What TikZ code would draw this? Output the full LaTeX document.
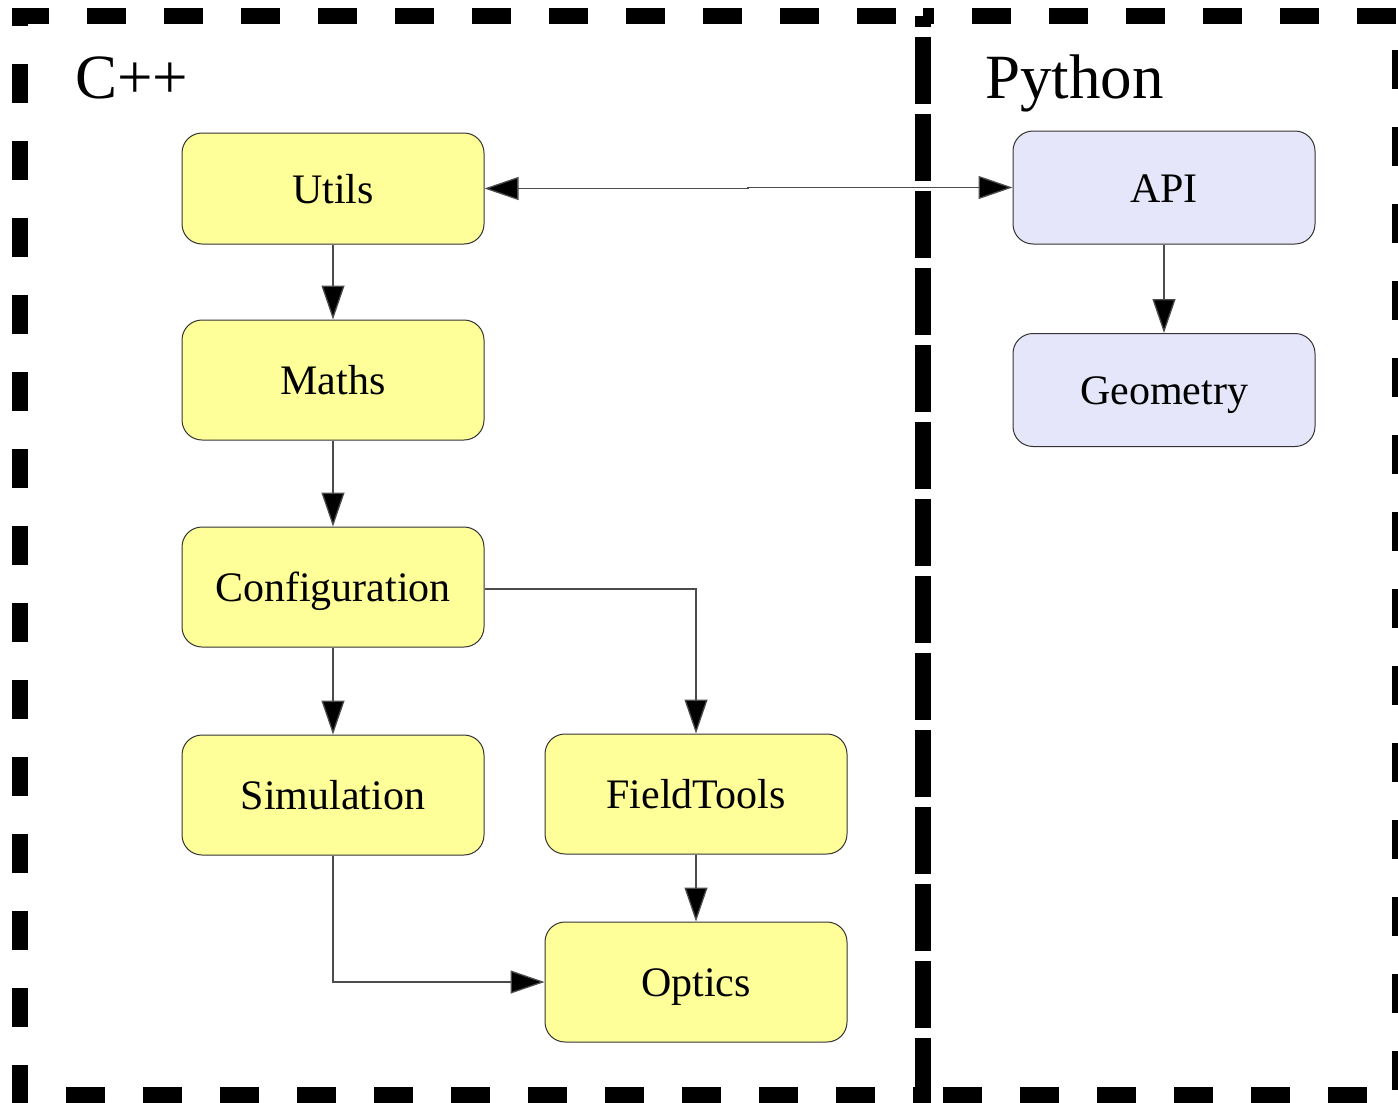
\documentclass[tikz,border=0pt]{standalone}
\usepackage{fontspec}
\setmainfont{Liberation Serif}
\usetikzlibrary{arrows.meta,positioning}

\definecolor{cppfill}{HTML}{FFFF99}
\definecolor{pyfill}{HTML}{E6E6FA}

\tikzset{
  module/.style={draw=black!80, line width=1pt, rounded corners=20pt,
    minimum width=302pt, inner sep=0pt, text height=30pt, text depth=1pt,
    font=\fontsize{42}{50}\selectfont},
  cppmod/.style={module, fill=cppfill, minimum height=120pt},
  pymod/.style={module, fill=pyfill, minimum height=113pt},
  dep/.style={draw=black!70, line width=1.3pt,
    -{Triangle[length=34pt,width=23pt,fill=black]}},
  bidep/.style={draw=black!70, line width=1.3pt,
    {Triangle[length=34pt,width=23pt,fill=black]}-{Triangle[length=34pt,width=23pt,fill=black]}},
  frame/.style={draw=black, line width=16pt, dash pattern=on 39pt off 38pt},
  title/.style={anchor=base west, inner sep=0pt, font=\fontsize{63}{75}\selectfont}
}

\begin{document}
\begin{tikzpicture}[x=1pt,y=-1pt]
\useasboundingbox (0,0) rectangle (1398,1103);

% language frames; both start down the shared edge, dashes offset by 28pt
\coordinate (shtop) at (923,16);
\coordinate (shbot) at (923,1095);
\draw[frame, dash phase=28pt] (shtop) -- (shbot) -- (19.5,1095) -- (19.5,16) -- cycle;
\draw[frame, dash phase=56pt] (shtop) -- (shbot) -- (1400,1095) -- (1400,16) -- cycle;
\node[title] (cpp) at (75,98) {C++};
\node[title] (py) at (985,98) {Python};

% C++ modules
\node[cppmod, minimum height=111pt] (utils) at (333,188.5) {Utils};
\node[cppmod] (maths) at (333,380) {Maths};
\node[cppmod] (config) at (333,587) {Configuration};
\node[cppmod] (sim) at (333,795) {Simulation};
\node[cppmod] (field) at (696,794) {FieldTools};
\node[cppmod] (optics) at (696,982) {Optics};

% Python modules
\node[pymod] (api) at (1164,187.5) {API};
\node[pymod] (geom) at (1164,390) {Geometry};

% dependencies
\coordinate (jog) at (748,0);
\draw[bidep] (utils.east) -- (utils.east -| jog) -- (api.west -| jog) -- (api.west);
\draw[dep] (utils) -- (maths);
\draw[dep] (maths) -- (config);
\draw[dep] (config) -- (sim);
\draw[dep] ([yshift=-2pt]config.east) -| (field.north);
\draw[dep] (sim.south) |- (optics.west);
\draw[dep] (field) -- (optics);
\draw[dep] (api) -- (geom);
\end{tikzpicture}
\end{document}
